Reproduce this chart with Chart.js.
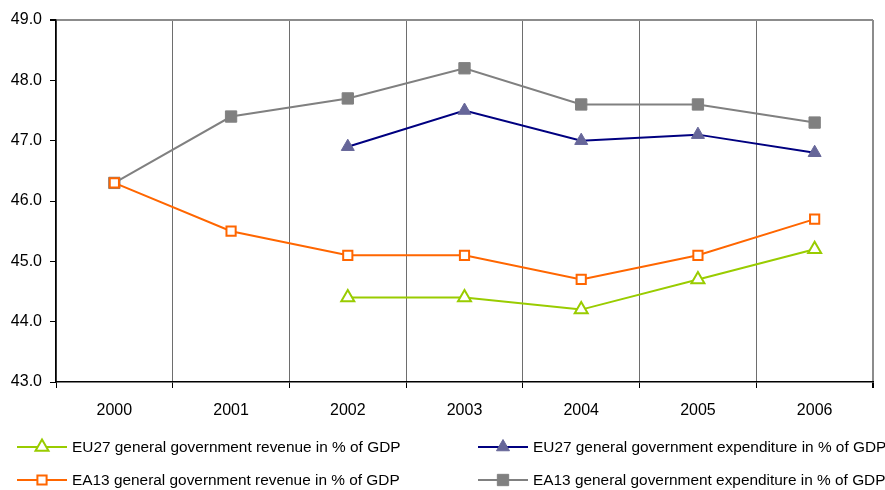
<!DOCTYPE html>
<html>
<head>
<meta charset="utf-8">
<script src="https://cdn.jsdelivr.net/npm/chart.js@4"></script>
<style>
	html, body { margin: 0; padding: 0; background: #fff; }
	#wrap { width: 885px; height: 490px; position: relative; }
</style>
</head>
<body>
<div id="wrap"><canvas id="chart"></canvas></div>
<script>
const years = ["2000", "2001", "2002", "2003", "2004", "2005", "2006"];
const eu27Revenue = [null, null, 44.4, 44.4, 44.2, 44.7, 45.2];
const eu27Expenditure = [null, null, 46.9, 47.5, 47.0, 47.1, 46.8];
const ea13Revenue = [46.3, 45.5, 45.1, 45.1, 44.7, 45.1, 45.7];
const ea13Expenditure = [46.3, 47.4, 47.7, 48.2, 47.6, 47.6, 47.3];

const fontFamily = "'Liberation Sans', Arial, sans-serif";

// legend slots: [x of line start, y centre] for each dataset
const legendSlots = [
	[17, 447],
	[478, 447],
	[17, 480],
	[478, 480],
];

const legendPlugin = {
	id: "twoColLegend",
	afterDraw(chart) {
		const ctx = chart.ctx;
		ctx.save();
		chart.data.datasets.forEach((ds, i) => {
			const [x, y] = legendSlots[i];
			ctx.strokeStyle = ds.borderColor;
			ctx.lineWidth = ds.borderWidth;
			ctx.beginPath();
			ctx.moveTo(x, y);
			ctx.lineTo(x + 50, y);
			ctx.stroke();
			ctx.fillStyle = ds.pointBackgroundColor;
			ctx.strokeStyle = ds.pointBorderColor;
			ctx.lineWidth = ds.pointBorderWidth;
			Chart.helpers.drawPoint(ctx, {
				pointStyle: ds.pointStyle,
				radius: ds.pointRadius,
				rotation: 0,
				borderWidth: ds.pointBorderWidth,
			}, x + 25, y);
			ctx.fillStyle = "#000";
			ctx.font = "15.4px " + fontFamily;
			ctx.textBaseline = "middle";
			ctx.textAlign = "left";
			ctx.fillText(ds.label, x + 55, y + 1);
		});
		ctx.restore();
	},
};

const config = {
	type: "line",
	data: {
		labels: years,
		datasets: [
			{
				label: "EU27 general government revenue in % of GDP",
				data: eu27Revenue,
				borderColor: "#99cc00",
				borderWidth: 2,
				pointStyle: "triangle",
				pointRadius: 7.5,
				pointBackgroundColor: "#ffffff",
				pointBorderColor: "#99cc00",
				pointBorderWidth: 2,
			},
			{
				label: "EU27 general government expenditure in % of GDP",
				data: eu27Expenditure,
				borderColor: "#000080",
				borderWidth: 2,
				pointStyle: "triangle",
				pointRadius: 7.5,
				pointBackgroundColor: "#666699",
				pointBorderColor: "#666699",
				pointBorderWidth: 1,
			},
			{
				label: "EA13 general government revenue in % of GDP",
				data: ea13Revenue,
				borderColor: "#ff6600",
				borderWidth: 2,
				pointStyle: "rect",
				pointRadius: 6.5,
				pointBackgroundColor: "#ffffff",
				pointBorderColor: "#ff6600",
				pointBorderWidth: 2,
			},
			{
				label: "EA13 general government expenditure in % of GDP",
				data: ea13Expenditure,
				borderColor: "#808080",
				borderWidth: 2,
				pointStyle: "rect",
				pointRadius: 8,
				pointBackgroundColor: "#808080",
				pointBorderColor: "#808080",
				pointBorderWidth: 1,
			},
		],
	},
	options: {
		responsive: true,
		maintainAspectRatio: false,
		animation: false,
		layout: { padding: { top: 20, right: 12, left: 0, bottom: 0 } },
		plugins: {
			legend: { display: false },
			tooltip: { enabled: false },
		},
		scales: {
			x: {
				offset: true,
				grid: {
					offset: true,
					color: (c) => (c.tick ? "#6e6e6e" : "#8c8c8c"),
					lineWidth: (c) => (c.tick ? 1 : 2),
					tickColor: "#000000",
					tickLength: 6,
				},
				border: { color: "#000000", width: 1.5 },
				ticks: {
					color: "#000",
					font: { family: fontFamily, size: 16 },
					padding: 13,
					maxRotation: 0,
				},
				afterFit(scale) { scale.height = 108; },
			},
			y: {
				min: 43,
				max: 49,
				grid: {
					color: (c) => (c.tick && c.tick.value === 49 ? "#8c8c8c" : "rgba(0,0,0,0)"),
					lineWidth: (c) => (c.tick && c.tick.value === 49 ? 2 : 1),
					tickColor: "#000000",
					tickLength: 6,
				},
				border: { color: "#000000", width: 1.5 },
				ticks: {
					stepSize: 1,
					color: "#000",
					font: { family: fontFamily, size: 16 },
					padding: 8,
					callback: (v) => Number(v).toFixed(1),
				},
				afterFit(scale) { scale.width = 56; },
			},
		},
	},
	plugins: [legendPlugin],
};

new Chart(document.getElementById("chart"), config);
</script>
</body>
</html>
